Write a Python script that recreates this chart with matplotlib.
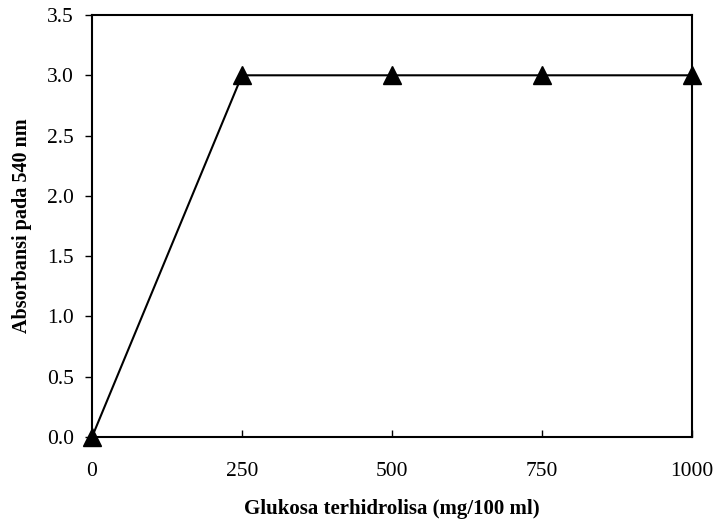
import matplotlib.pyplot as plt
import numpy as np

plt.rcParams['font.family'] = ['Liberation Serif', 'DejaVu Serif']

# konsentrasi glukosa dan absorbansi
glukosa = [0, 250, 500, 750, 1000]
absorbansi = [0.0, 3.0, 3.0, 3.0, 3.0]

x_ticks = [0, 250, 500, 750, 1000]
y_ticks = np.arange(0, 3.51, 0.5)

fig = plt.figure(figsize=(7.15, 5.25), dpi=100)
ax = fig.add_axes([0.1287, 0.1676, 0.8391, 0.8038])

ax.plot(glukosa, absorbansi, color='black', linewidth=1.5, marker='^',
        markersize=13, markerfacecolor='black', clip_on=False, zorder=5)

ax.set_xlim(0, 1000)
ax.set_ylim(0, 3.5)
ax.set_xticks(x_ticks)
ax.set_yticks(y_ticks)
ax.set_yticklabels([f'{v:.1f}' for v in y_ticks])

ax.tick_params(axis='x', direction='in', length=5, width=1, labelsize=15.5, pad=18)
ax.tick_params(axis='y', direction='out', length=5, width=1, labelsize=15.5, pad=8)
for s in ax.spines.values():
    s.set_linewidth(1.5)

ax.set_xlabel('Glukosa terhidrolisa (mg/100 ml)', fontsize=15, fontweight='bold', labelpad=13)
ax.set_ylabel('Absorbansi pada 540 nm', fontsize=14.5, fontweight='bold', labelpad=11)

fig.savefig('out.png', dpi=100)
